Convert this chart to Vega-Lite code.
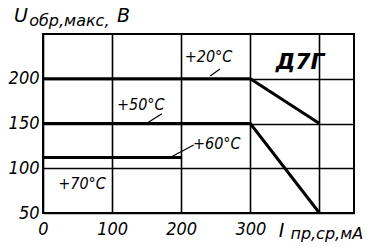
{
  "$schema": "https://vega.github.io/schema/vega-lite/v6.json",
  "width": 311,
  "height": 179,
  "autosize": "none",
  "padding": {"left": 43, "top": 34, "right": 18, "bottom": 37},
  "background": "white",
  "config": {
    "view": {"stroke": "black", "strokeWidth": 2},
    "font": "DejaVu Sans Condensed, Roboto, sans-serif"
  },
  "datasets": {
    "curves": [
      {"curve": "+20°C", "i": 0, "u": 200},
      {"curve": "+20°C", "i": 300, "u": 200},
      {"curve": "+20°C", "i": 400, "u": 150},
      {"curve": "+50°C", "i": 0, "u": 150},
      {"curve": "+50°C", "i": 300, "u": 150},
      {"curve": "+50°C", "i": 400, "u": 50},
      {"curve": "+60°C", "i": 0, "u": 112},
      {"curve": "+60°C", "i": 200, "u": 112}
    ],
    "leaders": [
      {"i1": 242, "u1": 203, "i2": 256, "u2": 211},
      {"i1": 152, "u1": 151, "i2": 172, "u2": 161},
      {"i1": 184, "u1": 112, "i2": 218, "u2": 126}
    ],
    "labels": [
      {"text": "+20°C", "i": 205, "u": 224},
      {"text": "+50°C", "i": 107, "u": 171},
      {"text": "+60°C", "i": 217, "u": 127},
      {"text": "+70°C", "i": 22, "u": 82}
    ],
    "device": [{"text": "Д7Г", "i": 372, "u": 219}],
    "big": [
      {"text": "U", "i": -42, "u": 270},
      {"text": "B", "i": 107, "u": 270},
      {"text": "I", "i": 341, "u": 30}
    ],
    "small": [
      {"text": "обр,макс,", "i": -20, "u": 265},
      {"text": "пр,ср,мА", "i": 358, "u": 26}
    ]
  },
  "layer": [
    {
      "data": {"name": "curves"},
      "mark": {"type": "line", "color": "black", "strokeWidth": 3},
      "encoding": {
        "x": {
          "field": "i", "type": "quantitative",
          "scale": {"domain": [0, 450], "nice": false, "zero": false},
          "axis": {
            "values": [0, 100, 200, 300, 400],
            "grid": true, "gridColor": "black", "gridWidth": 1.6, "gridOpacity": 1,
            "domain": false, "ticks": false,
            "labelExpr": "datum.value == 400 ? '' : datum.label",
            "labelFont": "DejaVu Sans Condensed, Roboto, sans-serif", "labelFontSize": 18, "labelFontStyle": "italic",
            "labelColor": "black", "labelPadding": 7, "labelFlush": false,
            "title": null
          }
        },
        "y": {
          "field": "u", "type": "quantitative",
          "scale": {"domain": [50, 250], "nice": false, "zero": false},
          "axis": {
            "values": [50, 100, 150, 200],
            "grid": true, "gridColor": "black", "gridWidth": 1.6, "gridOpacity": 1,
            "domain": false, "ticks": false,
            "labelFont": "DejaVu Sans Condensed, Roboto, sans-serif", "labelFontSize": 18, "labelFontStyle": "italic",
            "labelColor": "black", "labelPadding": 4,
            "title": null
          }
        },
        "detail": {"field": "curve"}
      }
    },
    {
      "data": {"name": "leaders"},
      "mark": {"type": "rule", "color": "black", "strokeWidth": 1.2},
      "encoding": {
        "x": {"field": "i1", "type": "quantitative"},
        "y": {"field": "u1", "type": "quantitative"},
        "x2": {"field": "i2"},
        "y2": {"field": "u2"}
      }
    },
    {
      "data": {"name": "labels"},
      "mark": {"type": "text", "align": "left", "baseline": "middle", "font": "DejaVu Sans Condensed, Roboto, sans-serif", "fontSize": 16, "fontStyle": "italic", "color": "black"},
      "encoding": {
        "x": {"field": "i", "type": "quantitative"},
        "y": {"field": "u", "type": "quantitative"},
        "text": {"field": "text"}
      }
    },
    {
      "data": {"name": "device"},
      "mark": {"type": "text", "align": "center", "baseline": "middle", "font": "DejaVu Sans", "fontSize": 22, "fontStyle": "italic", "fontWeight": "bold", "color": "black"},
      "encoding": {
        "x": {"field": "i", "type": "quantitative"},
        "y": {"field": "u", "type": "quantitative"},
        "text": {"field": "text"}
      }
    },
    {
      "data": {"name": "big"},
      "mark": {"type": "text", "align": "left", "baseline": "middle", "font": "DejaVu Sans", "fontSize": 19, "fontStyle": "italic", "color": "black"},
      "encoding": {
        "x": {"field": "i", "type": "quantitative"},
        "y": {"field": "u", "type": "quantitative"},
        "text": {"field": "text"}
      }
    },
    {
      "data": {"name": "small"},
      "mark": {"type": "text", "align": "left", "baseline": "middle", "font": "DejaVu Sans", "fontSize": 16, "fontStyle": "italic", "color": "black"},
      "encoding": {
        "x": {"field": "i", "type": "quantitative"},
        "y": {"field": "u", "type": "quantitative"},
        "text": {"field": "text"}
      }
    }
  ]
}
